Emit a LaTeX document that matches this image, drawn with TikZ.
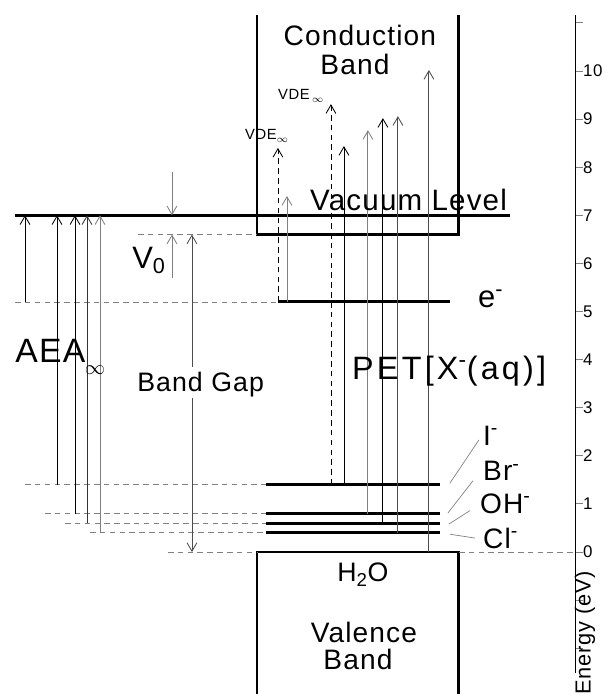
\documentclass[tikz,border=0pt]{standalone}
\usepackage{fontspec}
\setmainfont{Liberation Sans}[LetterSpace=4]
\usetikzlibrary{arrows.meta}

\tikzset{
  band/.style={line width=2pt},
  level/.style={line width=2pt},
  guide/.style={gray, line width=0.5pt, dash pattern=on 4pt off 3pt},
  trans/.style={->, line width=0.6pt},
  vde/.style={->, line width=0.6pt, dash pattern=on 4pt off 3pt},
  leader/.style={gray, line width=0.5pt},
  txt/.style={anchor=base west, inner sep=0pt},
}

\begin{document}
\begin{tikzpicture}[x=0.025cm, y=1.2025cm, >={Straight Barb[length=6pt,width=7pt]}]
	\useasboundingbox (0,-2.952) rectangle (606,11.476);
	% bands
	\draw[band] (257,11.16) -- (257,6.6) -- (459,6.6) -- (459,11.16);
	\draw[band] (257,-3.1) -- (257,0) -- (459,0) -- (459,-3.1);
	% guide lines
	\draw[guide] (15,5.2) -- (278,5.2);
	\draw[guide] (138,6.6) -- (257,6.6);
	\draw[guide] (25,1.4) -- (266,1.4);
	\draw[guide] (45,0.8) -- (266,0.8);
	\draw[guide] (65,0.6) -- (266,0.6);
	\draw[guide] (90,0.4) -- (266,0.4);
	\draw[guide] (168,0) -- (257,0);
	\draw[guide] (459,0) -- (576,0);
	% levels
	\draw[level] (15,7) -- (510,7);
	\draw[level] (278,5.2) -- (450,5.2);
	\foreach \e in {1.4,0.8,0.6,0.4}
		\draw[level] (266,\e) -- (440,\e);
	% AEA arrows
	\foreach \x/\lo/\c in {25/5.2/black, 57/1.4/black, 75/0.8/black, 87/0.6/black!80, 100/0.4/gray}
		\draw[trans, \c] (\x,\lo) -- (\x,7);
	% V0 and band gap
	\draw[trans, gray] (172,7.9) -- (172,7);
	\draw[trans, gray] (172,5.7) -- (172,6.6);
	\draw[trans, black!70] (192,3.85) -- (192,6.6);
	\draw[trans, black!70] (192,3.2) -- (192,0);
	% PET arrows
	\draw[vde] (278,5.2) -- (278,8.4);
	\draw[vde] (331,1.4) -- (331,9.31);
	\foreach \x/\lo/\hi/\c in {287/5.2/7.4/gray, 344/1.4/8.44/black, 368/0.8/8.77/gray, 383/0.6/9.02/black, 398/0.4/9.06/black!70, 429/0/10.02/black!70}
		\draw[trans, \c] (\x,\lo) -- (\x,\hi);
	% leaders
	\draw[leader] (450,1.43) -- (479,2.33);
	\draw[leader] (448,0.81) -- (473,1.48);
	\draw[leader] (449,0.58) -- (470,0.86);
	\draw[leader] (450,0.37) -- (475,0.29);
	% labels
	\node[txt, anchor=base, font=\fontsize{20}{24}\selectfont] (cb1) at (360,10.54) {Conduction};
	\node[txt, anchor=base, font=\fontsize{20}{24}\selectfont] (cb2) at (355,9.92) {Band};
	\node[txt, font=\fontsize{21}{25}\selectfont] (vac) at (310,7.09) {Vacuum Level};
	\node[txt, font=\fontsize{10.5}{12}\selectfont] (vde1) at (245,8.57) {VDE$_\infty$};
	\node[txt, font=\fontsize{10.5}{12}\selectfont] (vde2) at (278,9.4) {VDE\,$_\infty$};
	\node[txt, font=\fontsize{22}{26}\selectfont] (vzero) at (132,5.9) {V\textsubscript{0}};
	\node[txt, font=\fontsize{22}{26}\selectfont] (elec) at (478,5.09) {e\textsuperscript{-}};
	\node[txt, font=\fontsize{24}{28}\selectfont] (aea) at (15,3.95) {AEA};
	\node[font=\fontsize{14}{16}\selectfont, inner sep=0pt] (inf) at (95,3.78) {$\infty$};
	\node[txt, font=\fontsize{19}{23}\selectfont] (gap) at (137,3.33) {Band Gap};
	\node[txt, font=\fontsize{23}{27}\selectfont\addfontfeatures{LetterSpace=10}] (pet) at (352,3.58) {PET[X\textsuperscript{-}(aq)]};
	\node[txt, font=\fontsize{20}{24}\selectfont] (iod) at (483,2.22) {I\textsuperscript{-}};
	\node[txt, font=\fontsize{20}{24}\selectfont] (brom) at (483,1.48) {Br\textsuperscript{-}};
	\node[txt, font=\fontsize{20}{24}\selectfont] (hydr) at (480,0.81) {OH\textsuperscript{-}};
	\node[txt, font=\fontsize{20}{24}\selectfont] (chlo) at (483,0.08) {Cl\textsuperscript{-}};
	\node[txt, anchor=base, font=\fontsize{19}{23}\selectfont] (water) at (363,-0.62) {H\textsubscript{2}O};
	\node[txt, anchor=base, font=\fontsize{20}{24}\selectfont] (vb1) at (364,-1.89) {Valence};
	\node[txt, anchor=base, font=\fontsize{20}{24}\selectfont] (vb2) at (358,-2.45) {Band};
	% energy axis
	\draw[line width=0.6pt] (576,-2.52) -- (576,11.16);
	\foreach \e in {-2,...,11}
		\draw[gray, line width=0.6pt] (576,\e) -- (583,\e);
	\foreach \e in {0,...,10}
		\node[anchor=west, inner sep=0pt, font=\fontsize{12}{14}\selectfont] (tick\e) at (583,\e) {\e};
	\node[rotate=90, font=\fontsize{15.5}{18}\selectfont, inner sep=0pt] (elabel) at (585,-1.68) {Energy (eV)};
\end{tikzpicture}
\end{document}
